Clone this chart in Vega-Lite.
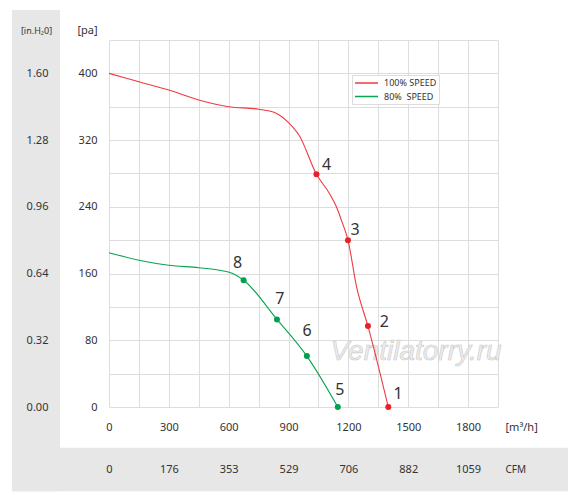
{
  "$schema": "https://vega.github.io/schema/vega-lite/v6.json",
  "width": 389,
  "height": 367,
  "autosize": {"type": "none"},
  "padding": {"left": 109, "top": 40, "right": 83, "bottom": 93},
  "background": "white",
  "config": {
    "view": {"stroke": null},
    "font": "Noto Sans",
    "axis": {
      "labelFont": "Noto Sans",
      "labelColor": "#333333",
      "labelFontSize": 11,
      "titleFont": "Noto Sans",
      "titleColor": "#333333",
      "titleFontWeight": "normal",
      "domain": false,
      "ticks": false,
      "tickSize": 0,
      "grid": false,
      "labelFlush": false
    }
  },
  "datasets": {
    "curves": [
      {"series": "100% SPEED", "flow": 0, "pressure": 400},
      {"series": "100% SPEED", "flow": 150, "pressure": 390},
      {"series": "100% SPEED", "flow": 300, "pressure": 380},
      {"series": "100% SPEED", "flow": 450, "pressure": 368},
      {"series": "100% SPEED", "flow": 600, "pressure": 360},
      {"series": "100% SPEED", "flow": 750, "pressure": 357},
      {"series": "100% SPEED", "flow": 840, "pressure": 352},
      {"series": "100% SPEED", "flow": 900, "pressure": 341},
      {"series": "100% SPEED", "flow": 955, "pressure": 325},
      {"series": "100% SPEED", "flow": 1040, "pressure": 279},
      {"series": "100% SPEED", "flow": 1105, "pressure": 256},
      {"series": "100% SPEED", "flow": 1140, "pressure": 240},
      {"series": "100% SPEED", "flow": 1165, "pressure": 224},
      {"series": "100% SPEED", "flow": 1198, "pressure": 200},
      {"series": "100% SPEED", "flow": 1242, "pressure": 143},
      {"series": "100% SPEED", "flow": 1298, "pressure": 97},
      {"series": "100% SPEED", "flow": 1400, "pressure": 0},
      {"series": "80%\u00a0 SPEED", "flow": 0, "pressure": 185},
      {"series": "80%\u00a0 SPEED", "flow": 150, "pressure": 176},
      {"series": "80%\u00a0 SPEED", "flow": 300, "pressure": 170},
      {"series": "80%\u00a0 SPEED", "flow": 450, "pressure": 167},
      {"series": "80%\u00a0 SPEED", "flow": 555, "pressure": 164},
      {"series": "80%\u00a0 SPEED", "flow": 620, "pressure": 160},
      {"series": "80%\u00a0 SPEED", "flow": 675, "pressure": 152},
      {"series": "80%\u00a0 SPEED", "flow": 842, "pressure": 105},
      {"series": "80%\u00a0 SPEED", "flow": 992, "pressure": 61},
      {"series": "80%\u00a0 SPEED", "flow": 1147, "pressure": 0}
    ],
    "points": [
      {"series": "100% SPEED", "n": "1", "flow": 1400, "pressure": 0, "lx": 1449, "ly": 16},
      {"series": "100% SPEED", "n": "2", "flow": 1298, "pressure": 97, "lx": 1380, "ly": 102},
      {"series": "100% SPEED", "n": "3", "flow": 1198, "pressure": 200, "lx": 1233, "ly": 212},
      {"series": "100% SPEED", "n": "4", "flow": 1040, "pressure": 279, "lx": 1091, "ly": 290},
      {"series": "80%\u00a0 SPEED", "n": "5", "flow": 1147, "pressure": 0, "lx": 1157, "ly": 20},
      {"series": "80%\u00a0 SPEED", "n": "6", "flow": 992, "pressure": 61, "lx": 993, "ly": 91},
      {"series": "80%\u00a0 SPEED", "n": "7", "flow": 842, "pressure": 105, "lx": 856, "ly": 130},
      {"series": "80%\u00a0 SPEED", "n": "8", "flow": 675, "pressure": 152, "lx": 645, "ly": 173}
    ]
  },
  "layer": [
    {
      "data": {"values": [{}]},
      "mark": {"type": "rect", "color": "#e6e7e6", "clip": false},
      "encoding": {
        "x": {
          "datum": -486,
          "type": "quantitative",
          "scale": {"domain": [0, 1950], "nice": false, "zero": false},
          "axis": {
            "orient": "bottom",
            "values": [0, 150, 300, 450, 600, 750, 900, 1050, 1200, 1350, 1500, 1650, 1800, 1950],
            "grid": true,
            "gridColor": "#dddddd",
            "labels": false,
            "title": null
          }
        },
        "x2": {"datum": -246},
        "y": {
          "datum": -101,
          "type": "quantitative",
          "scale": {"domain": [0, 440], "nice": false, "zero": false},
          "axis": {
            "orient": "left",
            "values": [0, 40, 80, 120, 160, 200, 240, 280, 320, 360, 400, 440],
            "grid": true,
            "gridColor": "#dddddd",
            "labels": false,
            "title": null
          }
        },
        "y2": {"datum": 476}
      }
    },
    {
      "data": {"values": [{}]},
      "mark": {"type": "rect", "color": "#e6e7e6", "clip": false},
      "encoding": {
        "x": {"datum": -486, "type": "quantitative", "axis": null},
        "x2": {"datum": 2301},
        "y": {"datum": -101, "type": "quantitative", "axis": null},
        "y2": {"datum": -49}
      }
    },
    {
      "data": {"values": [{}]},
      "mark": {
        "type": "text",
        "text": "Ventilatorry.ru",
        "font": "Liberation Sans",
        "fontStyle": "italic",
        "fontSize": 28,
        "align": "left",
        "baseline": "alphabetic",
        "fill": "#eeeeee",
        "stroke": "#c9c9c9",
        "strokeWidth": 0.6
      },
      "encoding": {
        "x": {"datum": 1110, "type": "quantitative", "axis": null},
        "y": {"datum": 56, "type": "quantitative", "axis": null}
      }
    },
    {
      "data": {"name": "curves"},
      "mark": {"type": "line", "interpolate": "monotone", "strokeWidth": 1.1},
      "encoding": {
        "x": {
          "field": "flow",
          "type": "quantitative",
          "axis": {
            "orient": "bottom",
            "values": [0, 300, 600, 900, 1200, 1500, 1800],
            "format": "d",
            "labelPadding": 20,
            "labelBaseline": "middle",
            "title": "[m³/h]",
            "titleX": 396,
            "titleY": 20,
            "titleAlign": "left",
            "titleBaseline": "middle",
            "titleFontSize": 11,
            "zindex": 1
          }
        },
        "y": {
          "field": "pressure",
          "type": "quantitative",
          "axis": {
            "orient": "left",
            "values": [0, 80, 160, 240, 320, 400],
            "labelPadding": 12,
            "title": "[pa]",
            "titleX": -22,
            "titleY": -10,
            "titleAngle": 0,
            "titleAlign": "center",
            "titleBaseline": "middle",
            "titleFontSize": 11,
            "zindex": 1
          }
        },
        "color": {
          "field": "series",
          "type": "nominal",
          "scale": {"domain": ["100% SPEED", "80%\u00a0 SPEED"], "range": ["#ef3a42", "#07a352"]},
          "legend": {
            "orient": "none",
            "legendX": 243,
            "legendY": 35,
            "title": null,
            "symbolType": "M-1,0H3.6",
            "symbolSize": 100,
            "symbolStrokeWidth": 1.5,
            "labelFontSize": 9,
            "labelColor": "#333333",
            "labelOffset": 18,
            "rowPadding": 2.5,
            "padding": 2,
            "strokeColor": "#dddddd",
            "fillColor": "white"
          }
        }
      }
    },
    {
      "data": {"name": "points"},
      "mark": {"type": "circle", "size": 36, "opacity": 1},
      "encoding": {
        "x": {
          "field": "flow",
          "type": "quantitative",
          "axis": {
            "orient": "bottom",
            "values": [0, 300, 600, 900, 1200, 1500, 1800],
            "labelExpr": "floor(datum.value * 0.5886)",
            "labelPadding": 62,
            "labelBaseline": "middle",
            "title": "CFM",
            "titleX": 396,
            "titleY": 62,
            "titleAlign": "left",
            "titleBaseline": "middle",
            "titleFontSize": 10,
            "zindex": 1
          }
        },
        "y": {
          "field": "pressure",
          "type": "quantitative",
          "axis": {
            "orient": "left",
            "values": [0, 80, 160, 240, 320, 400],
            "labelExpr": "format(datum.value / 250, '.2f')",
            "labelPadding": 72,
            "labelAlign": "center",
            "title": "[in.H₂0]",
            "titleX": -73,
            "titleY": -10,
            "titleAngle": 0,
            "titleAlign": "center",
            "titleBaseline": "middle",
            "titleFontSize": 9,
            "zindex": 1
          }
        },
        "fill": {
          "field": "series",
          "type": "nominal",
          "scale": {"domain": ["100% SPEED", "80%\u00a0 SPEED"], "range": ["#e8202a", "#00a04c"]},
          "legend": null
        }
      }
    },
    {
      "data": {"name": "points"},
      "mark": {"type": "text", "fontSize": 16, "color": "#333333", "align": "center", "baseline": "middle"},
      "encoding": {
        "x": {"field": "lx", "type": "quantitative", "axis": null},
        "y": {"field": "ly", "type": "quantitative", "axis": null},
        "text": {"field": "n"}
      }
    }
  ],
  "resolve": {"axis": {"x": "independent", "y": "independent"}}
}
